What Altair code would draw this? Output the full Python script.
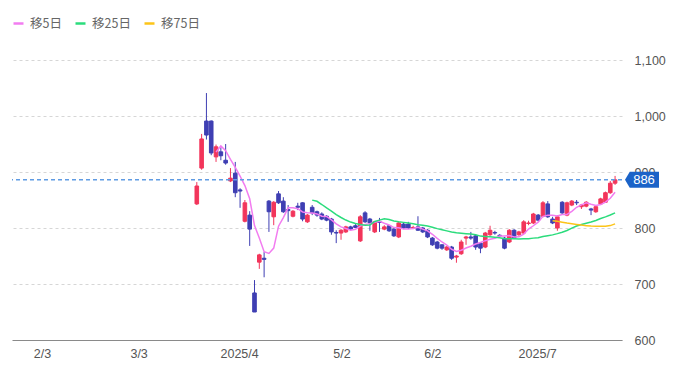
import altair as alt
import pandas as pd

# ---- data ----
opens  = [843, 907, 991, 991, 927, 936, 921, 884, 898, 868, 812, 823, 684, 739, 746, 848, 820, 861, 848, 833,
          821, 839, 845, 811, 837, 829, 825, 821, 816, 792, 791, 793, 802, 804, 777, 827, 816, 793, 811, 798,
          804, 798, 784, 807, 807, 800, 802, 800, 796, 782, 775, 770, 761, 766, 748, 754, 782, 784, 786, 773,
          766, 788, 792, 787, 782, 775, 796, 788, 791, 808, 809, 823, 821, 843, 816, 800, 846, 823, 841, 846,
          838, 839, 834, 829, 843, 846, 863, 880]
highs  = [882, 968, 1041, 992, 949, 945, 950, 907, 918, 871, 850, 830, 707, 754, 757, 850, 848, 866, 855, 841,
          832, 845, 846, 825, 841, 831, 828, 823, 818, 796, 798, 804, 804, 807, 823, 830, 818, 812, 818, 805,
          805, 800, 811, 809, 811, 804, 821, 802, 798, 784, 777, 771, 768, 768, 752, 779, 786, 793, 788, 775,
          793, 804, 795, 789, 784, 798, 798, 795, 814, 813, 827, 825, 848, 848, 820, 823, 848, 847, 850, 850,
          843, 848, 836, 840, 854, 865, 884, 893]
lows   = [841, 904, 958, 930, 918, 921, 913, 882, 855, 836, 810, 768, 650, 727, 712, 793, 805, 843, 827, 811,
          819, 832, 812, 809, 823, 820, 814, 812, 788, 773, 779, 791, 796, 800, 775, 809, 795, 791, 793, 796,
          793, 784, 782, 798, 798, 798, 795, 791, 782, 768, 762, 761, 759, 743, 738, 752, 770, 779, 761, 755,
          764, 786, 788, 784, 762, 773, 780, 786, 789, 805, 807, 812, 819, 818, 807, 795, 825, 821, 839, 841,
          834, 837, 823, 827, 841, 845, 861, 877]
closes = [875, 959, 966, 934, 945, 929, 916, 889, 863, 866, 845, 798, 650, 752, 744, 829, 846, 845, 829, 831,
          830, 837, 816, 823, 827, 823, 816, 814, 793, 791, 796, 802, 798, 801, 820, 811, 809, 811, 810, 802,
          795, 786, 809, 800, 800, 801, 796, 793, 784, 770, 764, 764, 766, 746, 750, 775, 784, 782, 766, 764,
          791, 796, 791, 786, 764, 796, 782, 793, 811, 809, 825, 814, 845, 820, 809, 820, 827, 845, 848, 845,
          841, 846, 832, 838, 852, 863, 880, 886]

tick_labels = ["2/3", "3/3", "2025/4", "5/2", "6/2", "2025/7"]
tick_slots = [-32.2, -12.1, 8.8, 30.1, 49.0, 70.8]
ma_windows = [5, 25, 75]
ma_names = ["移5日", "移25日", "移75日"]
ma_colors = ["#f27cf0", "#2bdc7c", "#fcc419"]

RED = "#f2355b"
BLUE = "#3f3fb3"
BADGE = "#1b63c8"
FONT = "Liberation Sans"

# ---- tables ----
n = len(closes)
candles = pd.DataFrame({"k": list(range(n)), "open": opens, "high": highs, "low": lows, "close": closes})

s = pd.Series(closes, dtype=float)
ma_rows = []
for w, name in zip(ma_windows, ma_names):
    m = s.rolling(w).mean()
    for k, v in enumerate(m):
        if pd.notna(v):
            ma_rows.append({"k": k, "value": float(v), "series": name})
ma = pd.DataFrame(ma_rows)

last = candles.tail(1)

label_expr = "[" + ",".join("'%s'" % t for t in tick_labels) + "][indexof([" + \
    ",".join(str(v) for v in tick_slots) + "], datum.value)]"

xscale = alt.Scale(domain=[-37.4, 87.4], nice=False, zero=False)
yscale = alt.Scale(domain=[600, 1100], nice=False, zero=False)

x_axis = alt.Axis(values=tick_slots, labelExpr=label_expr, grid=False, ticks=False,
                  domain=True, domainColor="#8a8a8a", domainWidth=1.2,
                  labelColor="#555555", labelFontSize=12.5, labelFont=FONT, labelPadding=7,
                  title=None, labelFlush=False)
y_axis = alt.Axis(orient="right", values=[600, 700, 800, 900, 1000, 1100], format=",d",
                  grid=True, gridColor="#d6d6d6", gridDash=[3, 3], gridWidth=1,
                  ticks=False, domain=False, labelColor="#555555", labelFontSize=12.5,
                  labelFont=FONT, labelPadding=12, title=None)

base = alt.Chart(candles)

wick = base.mark_rule(strokeWidth=1).encode(
    x=alt.X("k:Q", scale=xscale, axis=x_axis),
    y=alt.Y("low:Q", scale=yscale, axis=y_axis),
    y2="high:Q",
    color=alt.condition("datum.close >= datum.open", alt.value(RED), alt.value(BLUE)),
)

body = base.mark_bar(size=3.6, strokeWidth=1).encode(
    x="k:Q",
    y="open:Q",
    y2="close:Q",
    color=alt.condition("datum.close >= datum.open", alt.value(RED), alt.value(BLUE)),
    stroke=alt.condition("datum.close >= datum.open", alt.value(RED), alt.value(BLUE)),
)

lines = alt.Chart(ma).mark_line(strokeWidth=1.5).encode(
    x="k:Q",
    y="value:Q",
    color=alt.Color("series:N",
                    scale=alt.Scale(domain=ma_names, range=ma_colors),
                    sort=ma_names,
                    legend=alt.Legend(orient="none", legendX=0, legendY=-43, direction="horizontal",
                                      title=None, symbolType="stroke", symbolSize=100,
                                      symbolStrokeWidth=2.5, labelFont="Noto Sans CJK JP",
                                      labelFontSize=12.5, labelColor="#666666", labelOffset=5,
                                      columnPadding=8, padding=0)),
    detail="series:N",
)

last_line = alt.Chart(last).mark_rule(color="#5f9be3", strokeDash=[4, 3], strokeWidth=1.5).encode(
    y="close:Q"
)

badge = alt.Chart(last).mark_point(
    shape="M-1,0L-0.72,-0.47L1,-0.47L1,0.47L-0.72,0.47Z",
    filled=True, size=1156, color=BADGE, opacity=1, strokeWidth=0,
).encode(y="close:Q", x=alt.value(630))

badge_text = alt.Chart(last).mark_text(
    color="white", fontSize=13, font=FONT, align="center", baseline="middle"
).encode(y="close:Q", x=alt.value(632), text=alt.Text("close:Q", format="d"))

chart = alt.layer(wick, body, lines, last_line, badge, badge_text).properties(
    width=610, height=280,
    autosize=alt.AutoSizeParams(type="none"),
    padding={"left": 4, "top": 52, "right": 62, "bottom": 22},
).configure_view(stroke=None)

chart.save("out.html", embed_options={"renderer": "svg", "actions": False})
